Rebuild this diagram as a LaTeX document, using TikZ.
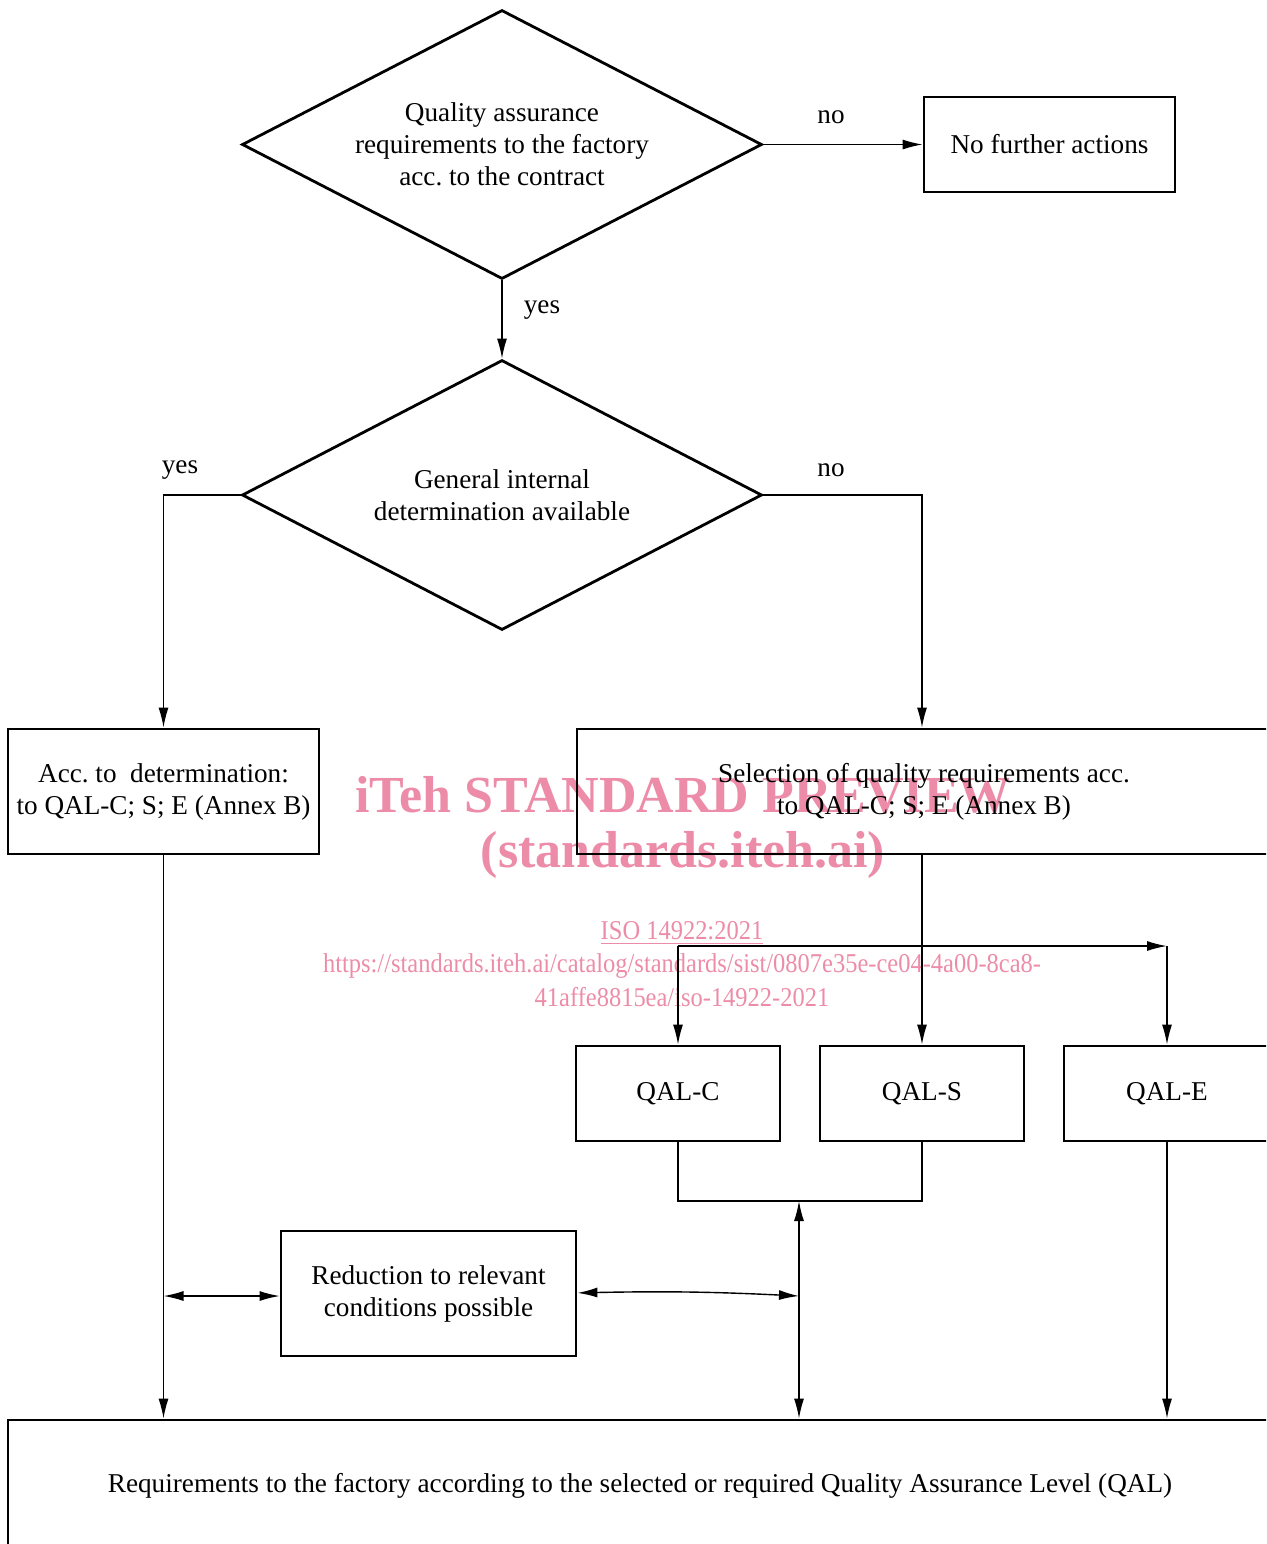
\documentclass[tikz,border=0pt]{standalone}
\usepackage{fontspec}
\setmainfont{Liberation Serif}
\newfontfamily\wmfont[FakeStretch=0.9]{Liberation Serif}
\usepackage{xcolor}
\usepackage{tikz}
\usetikzlibrary{shapes.geometric,arrows.meta}
\definecolor{wmark}{RGB}{236,140,168}
\frenchspacing

\begin{document}
\begin{tikzpicture}[x=0.5pt,y=-0.5pt,
	every node/.style={font=\fontsize{13.6}{16}\selectfont,align=center},
	box/.style={draw,line width=1.4pt,inner sep=0pt},
	dec/.style={draw,diamond,line width=1.4pt,inner sep=0pt,aspect=1.93},
	arr/.style={line width=0.7pt,-{Latex[length=10pt,width=5pt]}},
	darr/.style={line width=0.7pt,{Latex[length=10pt,width=5pt]}-{Latex[length=10pt,width=5pt]}},
	wmbig/.style={text=wmark,font=\fontsize{26}{30}\bfseries\selectfont},
	wmsmall/.style={text=wmark,font=\wmfont\fontsize{13.6}{15}\selectfont}]
			\useasboundingbox (0,0) rectangle (1266,1544);
			\clip (0,0) rectangle (1266,1544);
			\node[wmbig] (wma) at (683,795) {iTeh STANDARD PREVIEW};
			\node[wmbig] (wmb) at (683,855) {(standards.iteh.ai)};
			\node[wmsmall] (wmc) at (682,933) {\underline{ISO 14922:2021}};
			\node[wmsmall] (wmd) at (682,966) {https://standards.iteh.ai/catalog/standards/sist/0807e35e-ce04-4a00-8ca8-};
			\node[wmsmall] (wme) at (682,997) {41affe8815ea/iso-14922-2021};
			\node[dec,minimum width=260pt,minimum height=134.5pt] (q1) at (502,144.5) {Quality assurance\\requirements to the factory\\acc. to the contract};
			\node[box,minimum width=125.5pt,minimum height=47.5pt] (none) at (1049.5,144.5) {No further actions};
			\node[dec,minimum width=260pt,minimum height=135pt] (q2) at (502,495) {General internal\\determination available};
			\node[box,minimum width=155.5pt,minimum height=62.5pt] (acc) at (163.5,791.5) {Acc. to\ \ determination:\\to QAL-C; S; E (Annex B)};
			\node[box,minimum width=347pt,minimum height=62.5pt] (sel) at (924,791.5) {Selection of quality requirements acc.\\to QAL-C; S; E (Annex B)};
			\node[box,minimum width=102pt,minimum height=47.5pt] (qalc) at (678,1093.5) {QAL-C};
			\node[box,minimum width=102pt,minimum height=47.5pt] (qals) at (922,1093.5) {QAL-S};
			\node[box,minimum width=103pt,minimum height=47.5pt] (qale) at (1167,1093.5) {QAL-E};
			\node[box,minimum width=147.5pt,minimum height=62.5pt] (red) at (428.5,1293.5) {Reduction to relevant\\conditions possible};
			\node[box,minimum width=632pt,minimum height=66pt] (req) at (640,1486) {Requirements to the factory according to the selected or required Quality Assurance Level (QAL)};
			\node (no1) at (831,117) {no};
			\node (yes1) at (542,310) {yes};
			\node (yes2) at (180,470) {yes};
			\node (no2) at (831,470) {no};
			\coordinate (split) at (922,946);
			\coordinate (join) at (799,1201);
			\coordinate (lft) at (163.5,1296);
			\coordinate (rgt) at (799,1296);
			\draw[arr] (q1.east) -- (q1.east -| none.west);
			\draw[arr] (q1.south) -- (q2.north);
			\draw[arr] (q2.west) -| (acc.north);
			\draw[arr] (q2.east) -| (sel.north -| qals.north);
			\draw[arr] (sel.south -| qals.north) -- (qals.north);
			\draw[arr] (qalc.north |- split) -- (qale.north |- split);
			\draw[arr] (qalc.north |- split) -- (qalc.north);
			\draw[arr] (qale.north |- split) -- (qale.north);
			\draw[line width=0.7pt] (qalc.south) |- (join) -| (qals.south);
			\draw[darr] (join) -- (join |- req.north);
			\draw[arr] (acc.south) -- (acc.south |- req.north);
			\draw[arr] (qale.south) -- (qale.south |- req.north);
			\draw[darr] (lft) -- (red.west |- lft);
			\draw[darr] ([yshift=0.3pt]red.east) to[bend left=2] (rgt);
		\end{tikzpicture}
\end{document}
